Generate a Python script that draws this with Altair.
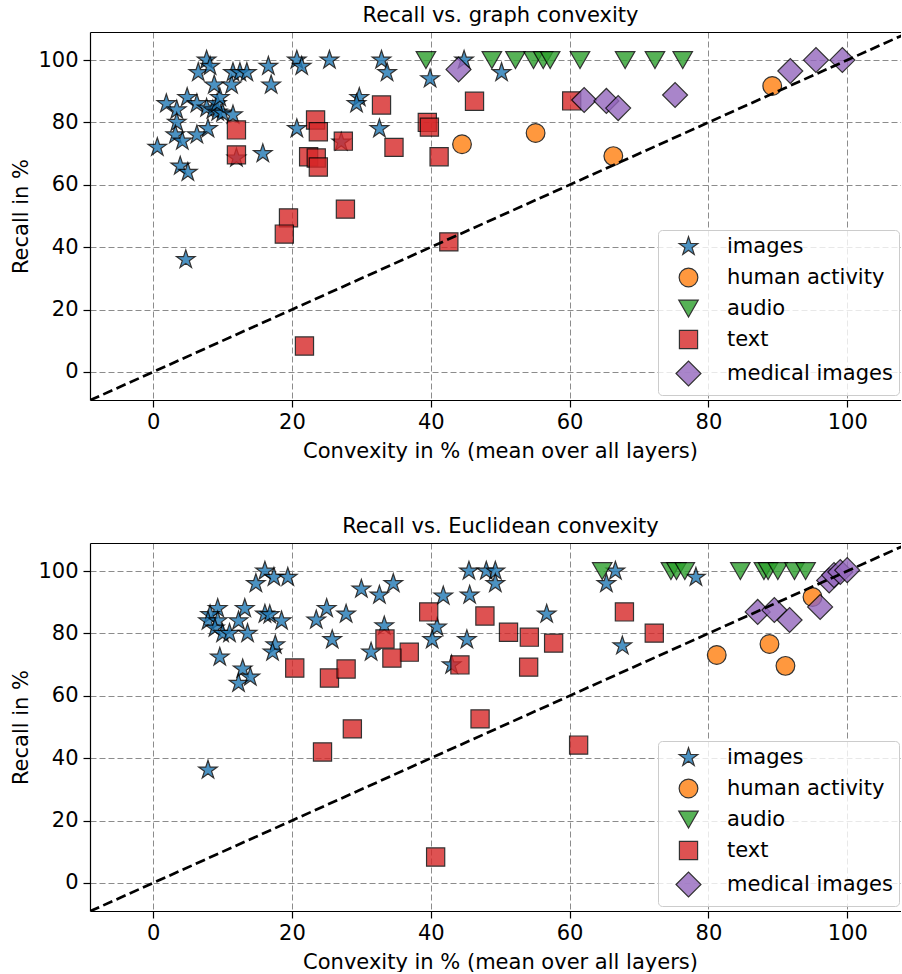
import altair as alt
import pandas as pd

CATS = ["images", "human activity", "audio", "text", "medical images"]
COLORS = ["#1f77b4", "#ff7f0e", "#2ca02c", "#d62728", "#9467bd"]
EDGES = ["black", "black", "black", "black", "black"]
STAR = ("M0,-1L0.2245,-0.309L0.951,-0.309L0.363,0.118L0.588,0.809L0,0.382"
        "L-0.588,0.809L-0.363,0.118L-0.951,-0.309L-0.2245,-0.309Z")
SHAPES = [STAR, "circle", "triangle-down", "square", "diamond"]
SIZES = [380, 350, 380, 330, 620]

# ---------- Recall vs. graph convexity ----------
g_img_x = [0.6, 1.9, 3.4, 3.4, 3.2, 4.2, 3.9, 5.0, 4.9, 6.3, 6.5, 7.7, 8.2, 7.7, 8.6, 9.3, 10.0, 9.2, 9.6,
           8.8, 11.3, 11.5, 12.5, 13.5, 11.5, 7.9, 6.3, 12.0, 15.8, 16.6, 17.0, 20.7, 21.4, 20.7, 25.4, 27.1,
           29.7, 29.3, 32.9, 33.7, 32.6, 39.9, 44.8, 50.2, 4.7]
g_img_y = [72, 86, 84, 80, 76, 74, 66, 64, 88, 86, 96, 100, 98, 84.6, 84, 83.3, 83, 86, 88,
           92, 92, 96, 96, 96, 82.4, 78, 76, 68.6, 70, 98, 92, 100, 98, 78, 100, 73.7,
           88, 86, 100, 96, 78, 94, 100, 96, 36]
g_hum_x = [44.5, 55.1, 66.3, 89.2]
g_hum_y = [73.0, 76.6, 69.2, 91.7]
g_aud_x = [39.3, 48.8, 52.2, 54.8, 56.2, 57.2, 61.5, 68.0, 72.3, 76.3]
g_aud_y = [100, 100, 100, 100, 100, 100, 100, 100, 100, 100]
g_txt_x = [12.0, 12.0, 23.4, 23.8, 22.4, 23.5, 23.8, 27.4, 32.9, 34.7, 39.5, 39.8, 41.2, 46.3, 60.3,
           19.5, 18.9, 27.7, 42.6, 21.8]
g_txt_y = [77.6, 69.6, 80.8, 77.0, 69.0, 68.6, 65.7, 74.0, 85.6, 72.0, 80.0, 78.5, 69.0, 86.8, 86.9,
           49.4, 44.2, 52.2, 41.7, 8.3]
g_med_x = [44.0, 62.1, 65.3, 67.0, 75.2, 91.8, 95.5, 99.3]
g_med_y = [97.0, 87.2, 86.9, 84.6, 88.8, 96.5, 100.0, 100.0]

# ---------- Recall vs. Euclidean convexity ----------
e_img_x = [7.9, 16.1, 17.4, 19.4, 14.8, 30.0, 32.6, 34.6, 9.3, 8.2, 7.9, 9.3, 13.2, 12.3, 16.1, 16.8,
           18.5, 25.0, 23.5, 27.8, 8.9, 10.0, 11.0, 13.6, 25.8, 17.6, 17.2, 9.6, 31.4, 33.3, 12.9, 14.0,
           12.3, 40.9, 40.2, 45.5, 48.0, 49.3, 49.3, 41.8, 45.6, 45.2, 56.7, 43.0, 66.6, 65.3, 67.6, 78.2]
e_img_y = [36.2, 100, 98, 98, 96, 94.2, 92.3, 96, 88, 86, 84, 84, 88, 84, 86.2, 86,
           84, 88, 84.3, 86.2, 81.7, 80, 80, 80, 78, 76.3, 74, 72.4, 74, 82.4, 68.6, 66,
           64, 82, 78, 100, 100, 100, 96, 92, 92.3, 78, 86.2, 69.9, 100, 96, 76, 98]
e_hum_x = [81.2, 88.8, 91.1, 95.0]
e_hum_y = [73.1, 76.6, 69.6, 91.7]
e_aud_x = [64.7, 74.6, 75.4, 76.6, 84.6, 88.0, 88.6, 90.0, 92.4, 94.0]
e_aud_y = [100, 100, 100, 100, 100, 100, 100, 100, 100, 100]
e_txt_x = [39.7, 47.8, 51.2, 54.2, 57.7, 67.9, 72.2, 36.9, 44.2, 54.1, 47.1, 61.3, 20.4, 25.4, 27.8,
           33.4, 34.4, 24.4, 28.7, 40.7]
e_txt_y = [86.9, 85.6, 80.4, 78.8, 76.9, 86.9, 80.1, 74.0, 69.9, 69.2, 52.6, 44.2, 68.9, 65.7, 68.6,
           78.2, 72.1, 42.0, 49.4, 8.3]
e_med_x = [87.1, 89.5, 91.7, 96.1, 97.4, 98.1, 99.0, 100.0]
e_med_y = [86.9, 87.5, 84.3, 88.5, 97.0, 98.7, 99.7, 100.3]

XDOM = [-9.1, 107.75]
YDOM = [-9.0, 109.0]
DIAG = [-9.1, 109.0]
TICKS = [0, 20, 40, 60, 80, 100]
W, H = 811, 368
FONT = "DejaVu Sans"
FS = 21


def frame(series):
    rows = []
    for k, (cat, (xs, ys)) in enumerate(zip(CATS, series)):
        for x, y in zip(xs, ys):
            rows.append({"x": x, "y": y, "category": cat, "ord": k})
    return pd.DataFrame(rows)


def panel(df, title):
    legend = alt.Legend(
        title=None, orient="none", legendX=568, legendY=198,
        labelFont=FONT, labelFontSize=FS, labelColor="black", labelLimit=400,
        fillColor="rgba(255,255,255,0.8)", strokeColor="#cccccc", cornerRadius=4,
        padding=6, rowPadding=0, labelOffset=25, symbolOffset=11, gridAlign="all",
        symbolStrokeWidth=1.2, symbolOpacity=0.8,
    )
    xenc = alt.X("x:Q", scale=alt.Scale(domain=XDOM, nice=False, zero=False),
                 axis=alt.Axis(values=TICKS, title="Convexity in % (mean over all layers)", titleX=410))
    yenc = alt.Y("y:Q", scale=alt.Scale(domain=YDOM, nice=False, zero=False),
                 axis=alt.Axis(values=TICKS, title="Recall in %"))
    pts = alt.Chart(df).mark_point(
        filled=True, opacity=0.8, strokeWidth=1.2
    ).encode(
        x=xenc, y=yenc,
        fill=alt.Fill("category:N", scale=alt.Scale(domain=CATS, range=COLORS), legend=legend),
        stroke=alt.Stroke("category:N", scale=alt.Scale(domain=CATS, range=EDGES), legend=legend),
        shape=alt.Shape("category:N", scale=alt.Scale(domain=CATS, range=SHAPES), legend=legend),
        size=alt.Size("category:N", scale=alt.Scale(type="ordinal", domain=CATS, range=SIZES), legend=legend),
        order=alt.Order("ord:Q"),
    )
    diag = pd.DataFrame({"x": DIAG, "y": DIAG})
    line = alt.Chart(diag).mark_line(
        color="black", strokeWidth=2.7, strokeDash=[10, 4.5], clip=True
    ).encode(
        x=alt.X("x:Q", scale=alt.Scale(domain=XDOM, nice=False, zero=False),
                axis=alt.Axis(orient="top", labels=False, ticks=False, grid=False, title=None, domain=True)),
        y=yenc,
    )
    return alt.layer(pts, line).resolve_axis(x="independent").properties(
        width=W, height=H,
        title=alt.TitleParams(title, font=FONT, fontSize=FS, fontWeight="normal",
                              anchor="middle", color="black", offset=6, dx=5),
    )


top = panel(frame([(g_img_x, g_img_y), (g_hum_x, g_hum_y), (g_aud_x, g_aud_y),
                   (g_txt_x, g_txt_y), (g_med_x, g_med_y)]), "Recall vs. graph convexity")
bottom = panel(frame([(e_img_x, e_img_y), (e_hum_x, e_hum_y), (e_aud_x, e_aud_y),
                      (e_txt_x, e_txt_y), (e_med_x, e_med_y)]), "Recall vs. Euclidean convexity")

chart = alt.vconcat(top, bottom, spacing=55).resolve_scale(
    fill="independent", stroke="independent", shape="independent", size="independent"
).properties(
    padding={"left": 10, "top": 5, "right": 0, "bottom": 0},
    background="white",
).configure_view(stroke=None).configure_axis(
    labelFont=FONT, titleFont=FONT, labelFontSize=FS, titleFontSize=FS,
    labelColor="black", titleColor="black", titleFontWeight="normal",
    domainColor="black", domainWidth=1.2, tickColor="black", tickWidth=1.2, tickSize=7,
    gridColor="#8c8c8c", gridDash=[6, 3], gridWidth=1, grid=True,
).configure_axisX(labelPadding=4, titlePadding=8).configure_axisY(labelPadding=5, titlePadding=6)

chart.save("out.html", embed_options={"renderer": "svg", "actions": False})
